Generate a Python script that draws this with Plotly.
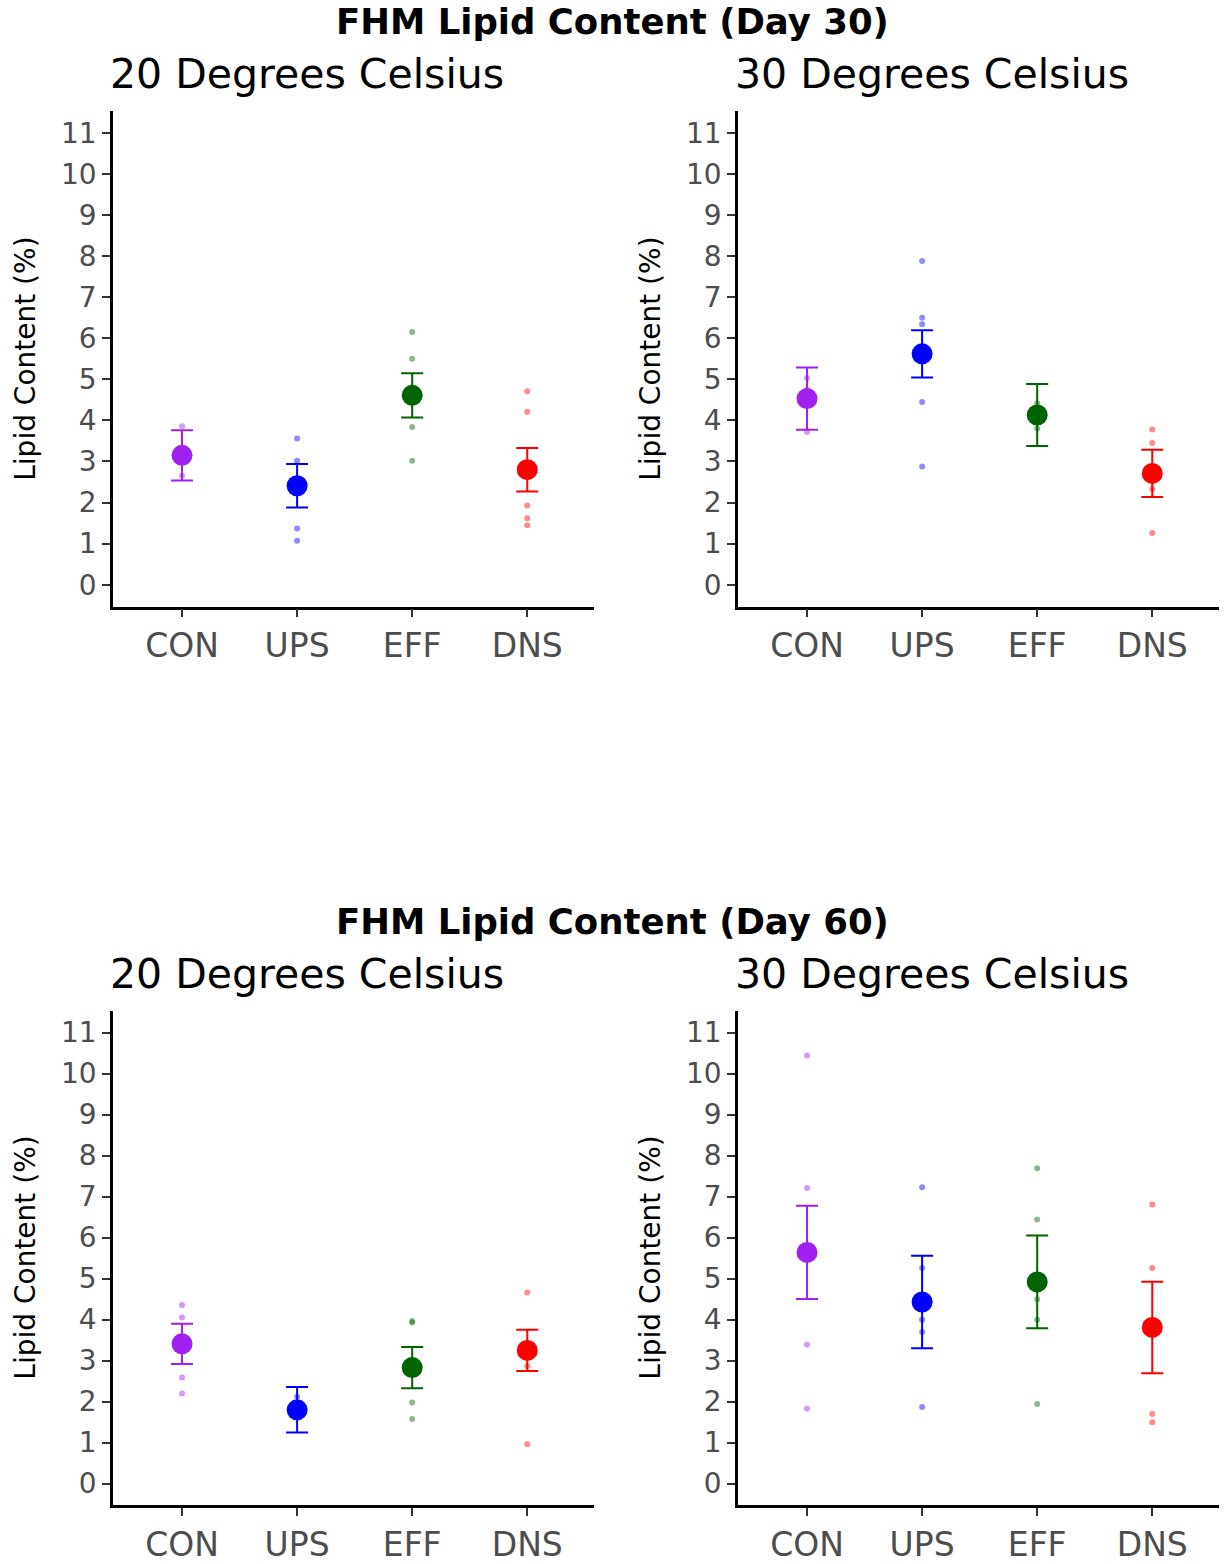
import plotly.graph_objects as go

categories = ["CON", "UPS", "EFF", "DNS"]
colors = ["#A020F0", "#0000FF", "#006400", "#FF0000"]
yticks = list(range(0, 12))

# Day 30, 20 C
d30_20_mean = [3.15, 2.41, 4.61, 2.80]
d30_20_se = [0.61, 0.53, 0.54, 0.53]
d30_20_pts = [[3.86, 3.20, 2.65], [3.56, 3.02, 2.45, 1.37, 1.07], [6.15, 5.50, 3.84, 3.02], [4.71, 4.21, 1.93, 1.62, 1.45]]
# Day 30, 30 C
d30_30_mean = [4.53, 5.62, 4.13, 2.71]
d30_30_se = [0.755, 0.575, 0.755, 0.575]
d30_30_pts = [[5.03, 4.74, 4.50, 3.72], [7.88, 6.50, 6.34, 4.45, 2.88], [4.42, 4.10, 3.80], [3.78, 3.45, 2.33, 1.26]]
# Day 60, 20 C
d60_20_mean = [3.41, 1.80, 2.83, 3.25]
d60_20_se = [0.49, 0.555, 0.505, 0.505]
d60_20_pts = [[4.36, 4.05, 2.59, 2.20], [2.12, 1.80], [3.97, 3.93, 1.98, 1.58], [4.66, 2.87, 0.96]]
# Day 60, 30 C
d60_30_mean = [5.64, 4.43, 4.92, 3.81]
d60_30_se = [1.135, 1.13, 1.13, 1.115]
d60_30_pts = [[10.44, 7.21, 3.39, 1.83], [7.23, 5.26, 4.00, 3.70, 1.87], [7.69, 6.44, 4.50, 4.00, 1.94], [6.81, 5.26, 1.70, 1.50]]

panels = [
    (d30_20_mean, d30_20_se, d30_20_pts),
    (d30_30_mean, d30_30_se, d30_30_pts),
    (d60_20_mean, d60_20_se, d60_20_pts),
    (d60_30_mean, d60_30_se, d60_30_pts),
]

W, H = 1225, 1564
FONT = "DejaVu Sans, Liberation Sans, Arial, sans-serif"

def px_x(p):
    return p / W

def px_y(p):
    return 1 - p / H

xdomains = [[px_x(113), px_x(594)], [px_x(738), px_x(1219)]]
ydomains = [[px_y(612), px_y(112)], [px_y(1519), px_y(1020)]]

fig = go.Figure()
layout = dict(
    width=W, height=H,
    margin=dict(l=0, r=0, t=0, b=0),
    paper_bgcolor="white", plot_bgcolor="white",
    showlegend=False,
    font=dict(family=FONT),
)

for i, (means, se, pts) in enumerate(panels):
    row, col = divmod(i, 2)
    idx = "" if i == 0 else str(i + 1)
    xa, ya = "x" + idx, "y" + idx
    for c, cat in enumerate(categories):
        fig.add_trace(go.Scatter(
            x=[cat] * len(pts[c]), y=pts[c], mode="markers",
            marker=dict(color=colors[c], size=6, opacity=0.45),
            xaxis=xa, yaxis=ya, hoverinfo="y"))
    for c, cat in enumerate(categories):
        fig.add_trace(go.Scatter(
            x=[cat], y=[means[c]], mode="markers",
            marker=dict(color=colors[c], size=21),
            error_y=dict(type="data", array=[se[c]], color=colors[c], thickness=2, width=11),
            xaxis=xa, yaxis=ya))
    layout["xaxis" + idx] = dict(
        domain=xdomains[col], anchor=ya, type="category",
        categoryorder="array", categoryarray=categories,
        range=[-0.6, 3.58], showline=True, linecolor="black", linewidth=2.5,
        ticks="outside", ticklen=8, tickwidth=2, tickcolor="#333333",
        tickfont=dict(size=33, color="#4d4d4d", family=FONT),
        showgrid=False, zeroline=False, mirror=False)
    layout["yaxis" + idx] = dict(
        domain=ydomains[row], anchor=xa,
        range=[-0.53, 11.53], tickvals=yticks, ticktext=[str(t) for t in yticks],
        showline=True, linecolor="black", linewidth=2.5,
        ticks="outside", ticklen=8, tickwidth=2, tickcolor="#333333",
        tickfont=dict(size=28, color="#4d4d4d", family=FONT),
        showgrid=False, zeroline=False)

annotations = []
for day, ty, sy, cy in [("30", 22, 75, 362), ("60", 930, 983, 1269)]:
    annotations.append(dict(text="<b>FHM Lipid Content (Day %s)</b>" % day, x=px_x(612), y=px_y(ty),
                            xref="paper", yref="paper", xanchor="center", yanchor="middle",
                            showarrow=False, font=dict(size=35.5, color="black", family=FONT)))
    for lx, lab in [(108, "20 Degrees Celsius"), (733, "30 Degrees Celsius")]:
        annotations.append(dict(text=lab, x=px_x(lx), y=px_y(sy), xref="paper", yref="paper",
                                xanchor="left", yanchor="middle", showarrow=False,
                                font=dict(size=41, color="black", family=FONT)))
    for tx in (26, 651):
        annotations.append(dict(text="Lipid Content (%)", x=px_x(tx), y=px_y(cy), xref="paper", yref="paper",
                                xanchor="center", yanchor="middle", textangle=-90, showarrow=False,
                                font=dict(size=28, color="black", family=FONT)))
layout["annotations"] = annotations
fig.update_layout(**layout)
fig.write_html("out.html")
